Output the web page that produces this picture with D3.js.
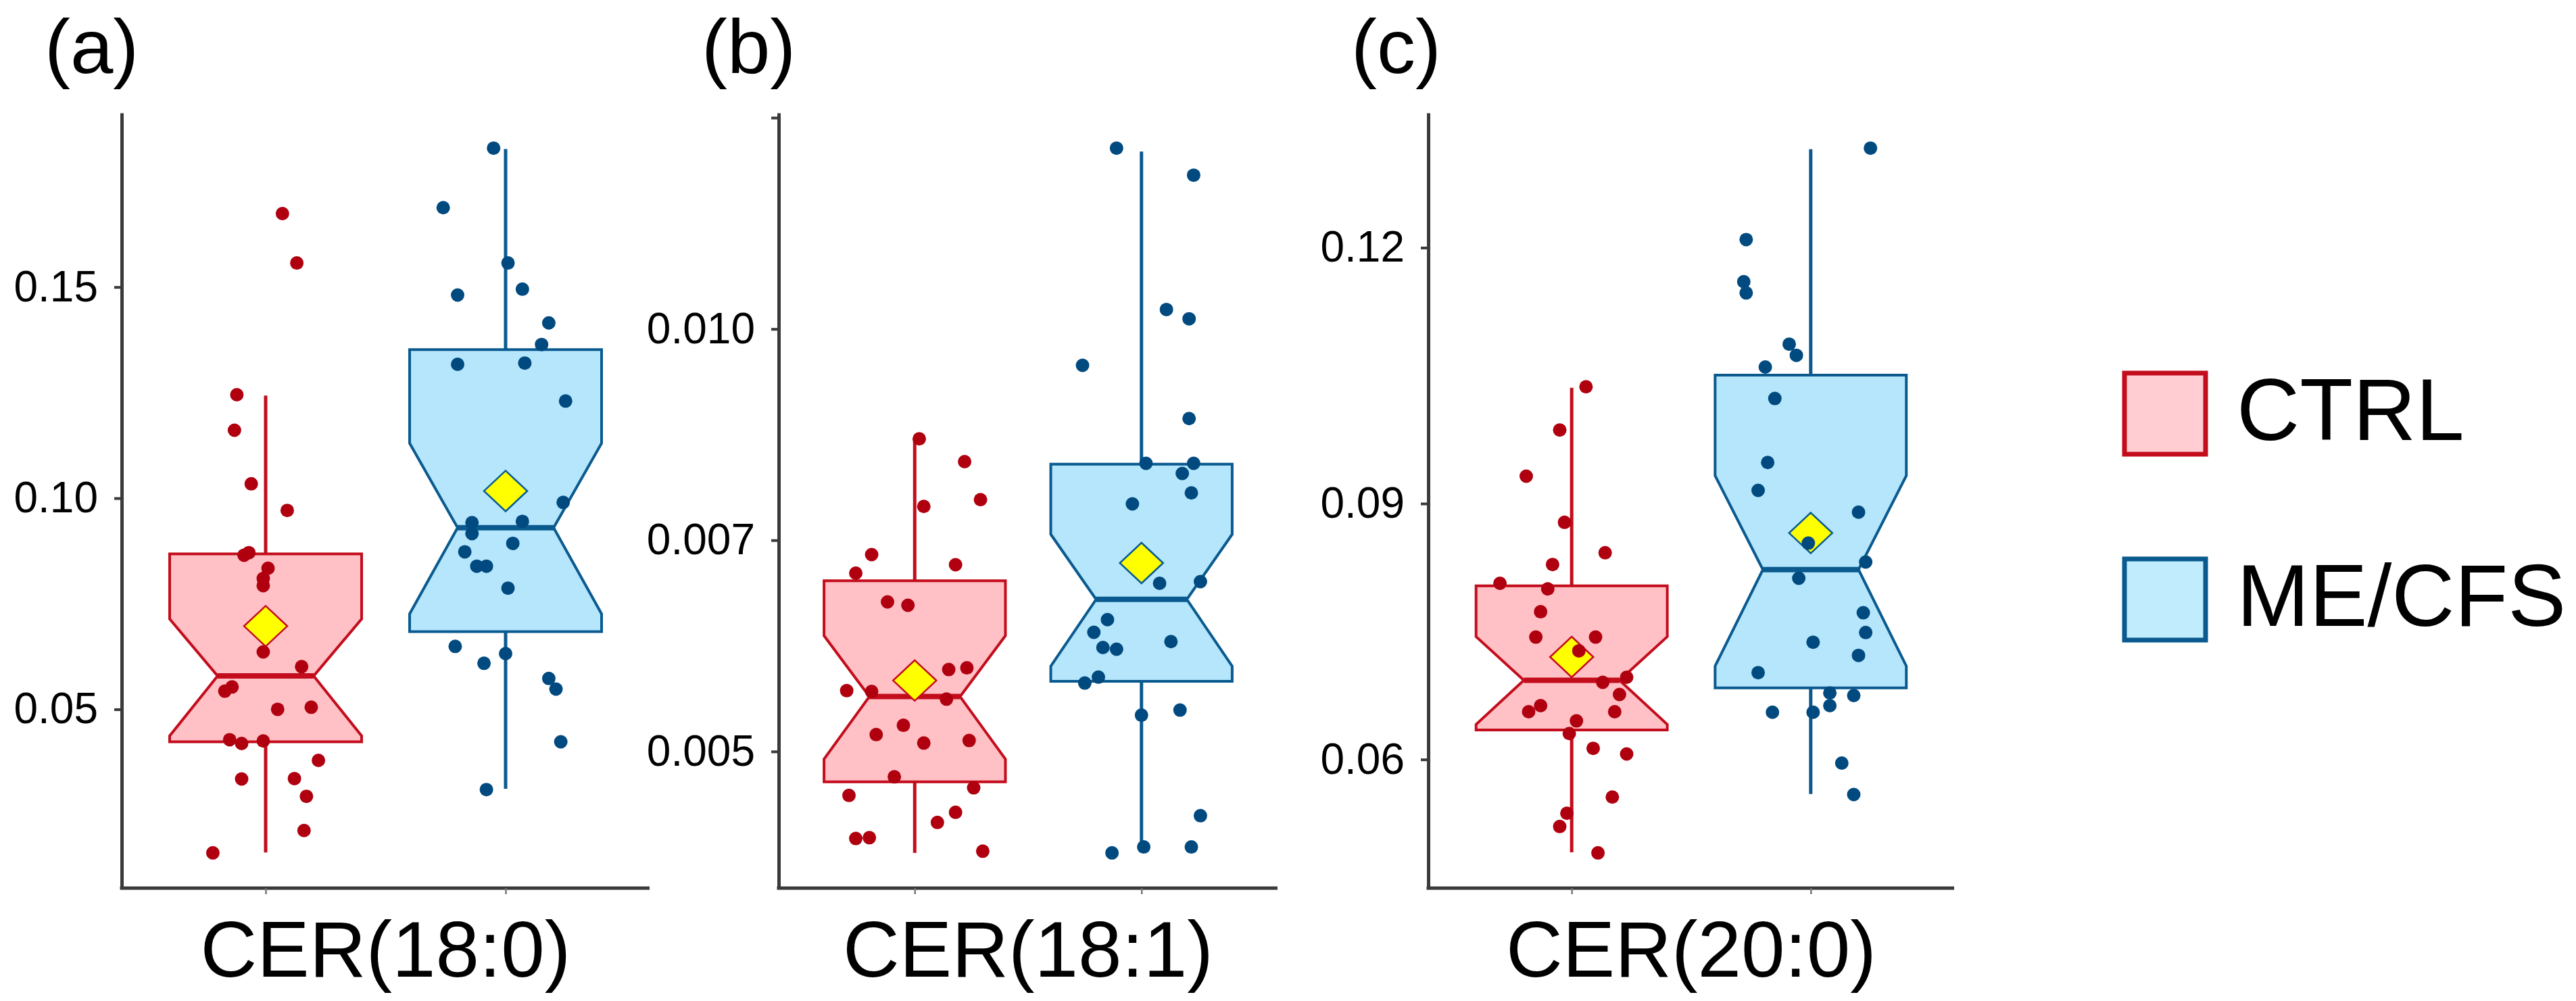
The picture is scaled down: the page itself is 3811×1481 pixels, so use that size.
<html>
  <head>
    <style>
      body { margin: 0; background: #fff; }
    </style>
  </head>
  <body>
    <script src="https://d3js.org/d3.v7.min.js"></script>
    <div id="main"></div>

    <script>
      // ---- data ----
      const groups = ["CTRL", "ME/CFS"];
      const panelTags = ["(a)", "(b)", "(c)"];
      const axisTitles = ["CER(18:0)", "CER(18:1)", "CER(20:0)"];

      const yTicks = [
        [0.05, 0.1, 0.15],
        [0.005, 0.0075, 0.01, 0.0125],
        [0.06, 0.09, 0.12],
      ];
      const yTickLabels = [
        ["0.05", "0.10", "0.15"],
        ["0.005", "0.007", "0.010", ""],
        ["0.06", "0.09", "0.12"],
      ];

      // box stats: [lower whisker, Q1, notch low, median, notch high, Q3, upper whisker]
      const boxA_ctrl = [0.0161, 0.0423, 0.0437, 0.0579, 0.0714, 0.0868, 0.1243];
      const boxA_me = [0.0312, 0.0684, 0.0726, 0.093, 0.113, 0.1352, 0.1827];
      const boxB_ctrl = [0.0038, 0.00464, 0.00491, 0.00565, 0.00637, 0.00702, 0.00871];
      const boxB_me = [0.00387, 0.00583, 0.00601, 0.0068, 0.00757, 0.0084, 0.0121];
      const boxC_ctrl = [0.04911, 0.06345, 0.06411, 0.06929, 0.0744, 0.08036, 0.10357];
      const boxC_me = [0.05595, 0.06839, 0.07095, 0.08226, 0.09327, 0.10506, 0.13155];

      // group means (yellow diamonds)
      const meansA = [0.0697, 0.1017];
      const meansB = [0.00584, 0.00723];
      const meansC = [0.07202, 0.08655];

      // individual samples
      const ptsA_ctrl = [0.1674, 0.1557, 0.1245, 0.1161, 0.1034, 0.0971, 0.0865, 0.0871, 0.0834, 0.081, 0.0793, 0.0636, 0.0601,
        0.0543, 0.0553, 0.05, 0.0505, 0.0428, 0.0419, 0.0425, 0.0379, 0.0335, 0.0336, 0.0294, 0.0213, 0.016];
      const jitA_ctrl = [0.07, 0.13, -0.12, -0.13, -0.06, 0.09, -0.09, -0.07, 0.01, -0.01, -0.01, -0.01, 0.15,
        -0.17, -0.14, 0.05, 0.19, -0.15, -0.1, -0.01, 0.22, -0.1, 0.12, 0.17, 0.16, -0.22];
      const ptsA_me = [0.1829, 0.1688, 0.1557, 0.1481, 0.1495, 0.1415, 0.1364, 0.1317, 0.132, 0.123, 0.099, 0.0942, 0.0916,
        0.0945, 0.0893, 0.0873, 0.0839, 0.0839, 0.0787, 0.0649, 0.0609, 0.0632, 0.0573, 0.0548, 0.0423, 0.031];
      const jitA_me = [-0.05, -0.26, 0.01, -0.2, 0.07, 0.18, 0.15, -0.2, 0.08, 0.25, 0.24, -0.14, -0.14,
        0.07, 0.03, -0.17, -0.12, -0.08, 0.01, -0.21, -0.09, 0.0, 0.18, 0.21, 0.23, -0.08];

      const ptsB_ctrl = [0.0087, 0.00843, 0.00798, 0.0079, 0.00733, 0.00711, 0.00721, 0.00677, 0.00673, 0.00597, 0.00599, 0.00572, 0.00571,
        0.00562, 0.0052, 0.00531, 0.0051, 0.00513, 0.0047, 0.00448, 0.00457, 0.00397, 0.00398, 0.00416, 0.00428, 0.00382];
      const jitB_ctrl = [0.02, 0.22, 0.29, 0.04, -0.19, -0.26, 0.18, -0.12, -0.03, 0.15, 0.23, -0.3, -0.19,
        0.14, -0.17, -0.05, 0.04, 0.24, -0.09, -0.29, 0.26, -0.26, -0.2, 0.1, 0.18, 0.3];
      const ptsB_me = [0.01214, 0.01182, 0.01023, 0.01012, 0.00957, 0.00894, 0.00841, 0.00841, 0.00829, 0.00806, 0.00793, 0.00699, 0.00701,
        0.00656, 0.00641, 0.00623, 0.00621, 0.0063, 0.00581, 0.00588, 0.00543, 0.00549, 0.00424, 0.0038, 0.00387, 0.00387];
      const jitB_me = [-0.11, 0.23, 0.11, 0.21, -0.26, 0.21, 0.02, 0.23, 0.18, 0.22, -0.04, 0.08, 0.26,
        -0.15, -0.21, -0.17, -0.11, 0.13, -0.25, -0.19, 0.0, 0.17, 0.26, -0.13, 0.01, 0.22];

      const ptsC_ctrl = [0.10369, 0.09863, 0.09321, 0.0878, 0.08423, 0.08286, 0.08065, 0.08, 0.07732, 0.07435, 0.07435, 0.07274, 0.06905,
        0.06964, 0.06762, 0.0656, 0.06631, 0.0656, 0.06452, 0.06304, 0.06131, 0.06065, 0.0556, 0.05369, 0.05214, 0.04905];
      const jitC_ctrl = [0.06, -0.05, -0.19, -0.03, 0.14, -0.08, -0.3, -0.1, -0.13, -0.15, 0.1, 0.03, 0.13,
        0.23, 0.2, -0.18, -0.13, 0.18, 0.02, -0.01, 0.09, 0.23, 0.17, -0.02, -0.05, 0.11];
      const ptsC_me = [0.13167, 0.12095, 0.11601, 0.1147, 0.10869, 0.10738, 0.10601, 0.10232, 0.09482, 0.09155, 0.08899, 0.08536, 0.08315,
        0.08125, 0.0772, 0.07488, 0.0722, 0.07375, 0.07018, 0.0678, 0.0675, 0.06631, 0.06554, 0.06554, 0.05958, 0.05589];
      const jitC_me = [0.25, -0.27, -0.28, -0.27, -0.09, -0.06, -0.19, -0.15, -0.18, -0.22, 0.2, -0.01, 0.23,
        -0.05, 0.22, 0.23, 0.2, 0.01, -0.22, 0.08, 0.18, 0.08, -0.16, 0.01, 0.13, 0.18];

      // ---- look ----
      const W = 3811, H = 1481;
      const plotTop = 167, plotBottom = 1314;
      const panelSpans = [[180, 961], [1152, 1890], [2113, 2891]];
      const font = "'Liberation Sans', Arial, sans-serif";
      const axisColor = "#3a3a3a";
      const boxFill = ["#ffc0c6", "#b5e6fb"];
      const lineColor = ["#c30d1c", "#0a5a90"];
      const dotColor = ["#b0000f", "#004a80"];
      const legendFill = ["#ffcdd2", "#c0ecfe"];

      const panels = [
        { box: [boxA_ctrl, boxA_me], means: meansA, pts: [ptsA_ctrl, ptsA_me], jit: [jitA_ctrl, jitA_me] },
        { box: [boxB_ctrl, boxB_me], means: meansB, pts: [ptsB_ctrl, ptsB_me], jit: [jitB_ctrl, jitB_me] },
        { box: [boxC_ctrl, boxC_me], means: meansC, pts: [ptsC_ctrl, ptsC_me], jit: [jitC_ctrl, jitC_me] },
      ];

      const svg = d3
        .select("#main")
        .append("svg")
        .attr("width", W)
        .attr("height", H)
        .style("font-family", font);

      svg.append("rect").attr("width", W).attr("height", H).attr("fill", "#fff");

      panels.forEach((p, pi) => {
        const x = d3.scalePoint().domain(groups).range(panelSpans[pi]).padding(0.6);
        const step = x.step();

        // ggplot-like 5% expansion around the data
        const all = p.pts.flat().concat(p.box.flat());
        const [lo, hi] = d3.extent(all);
        const pad = (hi - lo) * 0.05;
        const y = d3.scaleLinear().domain([lo - pad, hi + pad]).range([plotBottom, plotTop]);

        const g = svg.append("g");

        // axes
        const yAxis = g
          .append("g")
          .attr("transform", `translate(${panelSpans[pi][0]},0)`)
          .call(
            d3.axisLeft(y)
              .tickValues(yTicks[pi])
              .tickFormat((d, i) => yTickLabels[pi][i])
              .tickSize(11)
              .tickSizeOuter(0)
              .tickPadding(24)
          );
        yAxis.select(".domain").attr("stroke", axisColor).attr("stroke-width", 5);
        yAxis.selectAll(".tick line").attr("stroke", axisColor).attr("stroke-width", 4);
        yAxis.selectAll(".tick text")
          .attr("fill", "#000")
          .style("font-size", "64px")
          .style("font-family", font);

        const xAxis = g
          .append("g")
          .attr("transform", `translate(0,${plotBottom})`)
          .call(d3.axisBottom(x).tickSize(9).tickSizeOuter(0).tickFormat(""));
        xAxis.select(".domain")
          .attr("stroke", axisColor)
          .attr("stroke-width", 5)
          .attr("d", `M${panelSpans[pi][0] - 2.5},0H${panelSpans[pi][1]}`);
        xAxis.selectAll(".tick line").attr("stroke", "#777").attr("stroke-width", 2.5);

        // boxes
        groups.forEach((grp, k) => {
          const b = p.box[k];
          const cx = x(grp);
          const hw = step * 0.4;
          const [wLo, q1, nLo, med, nHi, q3, wHi] = b;

          g.append("line")
            .attr("x1", cx).attr("x2", cx)
            .attr("y1", y(wHi)).attr("y2", y(q3))
            .attr("stroke", lineColor[k]).attr("stroke-width", 5);
          g.append("line")
            .attr("x1", cx).attr("x2", cx)
            .attr("y1", y(q1)).attr("y2", y(wLo))
            .attr("stroke", lineColor[k]).attr("stroke-width", 5);

          const poly = [
            [cx - hw, y(q3)], [cx + hw, y(q3)], [cx + hw, y(nHi)], [cx + hw / 2, y(med)],
            [cx + hw, y(nLo)], [cx + hw, y(q1)], [cx - hw, y(q1)], [cx - hw, y(nLo)],
            [cx - hw / 2, y(med)], [cx - hw, y(nHi)],
          ];
          g.append("polygon")
            .attr("points", poly.map((d) => d.join(",")).join(" "))
            .attr("fill", boxFill[k])
            .attr("stroke", lineColor[k])
            .attr("stroke-width", 4)
            .attr("stroke-linejoin", "miter");

          g.append("line")
            .attr("x1", cx - hw / 2).attr("x2", cx + hw / 2)
            .attr("y1", y(med)).attr("y2", y(med))
            .attr("stroke", lineColor[k]).attr("stroke-width", 8);

          // mean diamond
          const my = y(p.means[k]);
          g.append("path")
            .attr("d", `M${cx},${my - 30}L${cx + 32},${my}L${cx},${my + 30}L${cx - 32},${my}Z`)
            .attr("fill", "#ffff00")
            .attr("stroke", lineColor[k])
            .attr("stroke-width", 2.5);

          // jittered samples
          g.append("g")
            .selectAll("circle")
            .data(p.pts[k])
            .join("circle")
            .attr("cx", (d, i) => cx + p.jit[k][i] * step)
            .attr("cy", (d) => y(d))
            .attr("r", 10)
            .attr("fill", dotColor[k]);
        });

        // panel tag and x title
        svg.append("text")
          .attr("x", panelSpans[pi][0] - 114)
          .attr("y", 108)
          .style("font-size", "114px")
          .text(panelTags[pi]);

        svg.append("text")
          .attr("x", (panelSpans[pi][0] + panelSpans[pi][1]) / 2)
          .attr("y", 1445)
          .attr("text-anchor", "middle")
          .style("font-size", "116px")
          .text(axisTitles[pi]);
      });

      // legend
      const legend = svg.append("g").attr("transform", "translate(3143,0)");
      const legendY = [552, 827];
      groups.forEach((grp, k) => {
        legend.append("rect")
          .attr("x", 0)
          .attr("y", legendY[k])
          .attr("width", 120)
          .attr("height", 120)
          .attr("fill", legendFill[k])
          .attr("stroke", lineColor[k])
          .attr("stroke-width", 7);
        legend.append("text")
          .attr("x", 166)
          .attr("y", legendY[k] + 99)
          .style("font-size", "129px")
          .text(grp);
      });
    </script>
  </body>
</html>
